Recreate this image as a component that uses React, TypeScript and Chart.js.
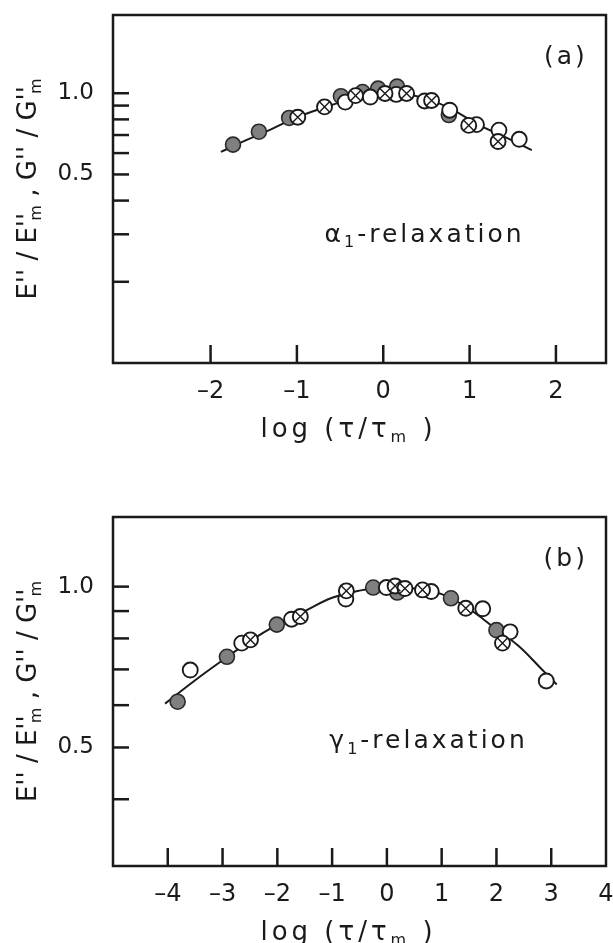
import React, { useEffect, useRef } from 'react';
import { Chart, registerables } from 'chart.js';

Chart.register(...registerables);

const FONT = '"DejaVu Sans", "Noto Sans", sans-serif';
const INK = '#1a1a1a';

// ---------- Panel (a): α1-relaxation ----------
const aFilledX = [-1.74, -1.44, -1.09, -0.49, -0.24, -0.06, 0.16, 0.76];
const aFilledY = [0.645, 0.72, 0.81, 0.975, 1.01, 1.04, 1.058, 0.83];
const aCrossX = [-0.99, -0.68, -0.32, 0.02, 0.27, 0.56, 0.99, 1.33];
const aCrossY = [0.815, 0.89, 0.98, 0.998, 0.998, 0.94, 0.76, 0.662];
const aOpenX = [-0.44, -0.15, 0.15, 0.48, 0.77, 1.08, 1.34, 1.575];
const aOpenY = [0.927, 0.968, 0.99, 0.936, 0.865, 0.765, 0.73, 0.675];
const aCurveX = [-1.88, -1.6, -1.3, -1.0, -0.7, -0.4, -0.1, 0.2, 0.5, 0.8, 1.1, 1.4, 1.72];
const aCurveY = [0.606, 0.667, 0.735, 0.815, 0.882, 0.945, 0.99, 0.995, 0.955, 0.87, 0.765, 0.69, 0.615];
const aXTicks = [-2, -1, 0, 1, 2];
const aXLabels = [-2, -1, 0, 1, 2];
const aYTicks = [0.2, 0.3, 0.4, 0.5, 0.6, 0.7, 0.8, 0.9, 1.0];
const aYLabels = [0.5, 1.0];

// ---------- Panel (b): γ1-relaxation ----------
const bFilledX = [-3.82, -2.92, -2.01, -0.25, 0.19, 1.17, 2.0];
const bFilledY = [0.609, 0.739, 0.849, 0.996, 0.975, 0.951, 0.829];
const bOpenX = [-3.59, -2.65, -1.74, -0.75, -0.01, 0.81, 1.75, 2.25, 2.91];
const bOpenY = [0.698, 0.784, 0.869, 0.948, 0.996, 0.979, 0.909, 0.823, 0.666];
const bCrossX = [-2.49, -1.58, -0.74, 0.15, 0.33, 0.65, 1.44, 2.11];
const bCrossY = [0.795, 0.879, 0.982, 1.003, 0.992, 0.986, 0.911, 0.784];
const bCurveX = [-4.05, -3.5, -3.0, -2.5, -2.0, -1.5, -1.0, -0.5, 0, 0.5, 1.0, 1.5, 2.0, 2.4, 2.8, 3.1];
const bCurveY = [0.604, 0.668, 0.728, 0.791, 0.849, 0.9, 0.953, 0.983, 0.998, 0.992, 0.968, 0.908, 0.832, 0.775, 0.705, 0.656];
const bXTicks = [-4, -3, -2, -1, 0, 1, 2, 3, 4];
const bXLabels = [-4, -3, -2, -1, 0, 1, 2, 3, 4];
const bYTicks = [0.4, 0.5, 0.6, 0.7, 0.8, 0.9, 1.0];
const bYLabels = [0.5, 1.0];

const pts = (xs: number[], ys: number[]) => xs.map((x, i) => ({ x, y: ys[i] }));

type Seg = { t: string; sub?: boolean; back?: string };

function richWidth(ctx: CanvasRenderingContext2D, segs: Seg[], size: number) {
  let w = 0;
  for (const s of segs) {
    if (s.back) {
      ctx.font = `${size}px ${FONT}`;
      w -= ctx.measureText(s.back).width * 0.55;
    }
    ctx.font = `${s.sub ? Math.round(size * 0.62) : size}px ${FONT}`;
    w += ctx.measureText(s.t).width;
  }
  return w;
}

function drawRich(ctx: CanvasRenderingContext2D, segs: Seg[], x0: number, y: number, size: number, baseline: CanvasTextBaseline = 'alphabetic') {
  let x = x0;
  ctx.textAlign = 'left';
  ctx.textBaseline = baseline;
  for (const s of segs) {
    if (s.back) {
      ctx.font = `${size}px ${FONT}`;
      x -= ctx.measureText(s.back).width * 0.55;
    }
    const fs = s.sub ? Math.round(size * 0.62) : size;
    ctx.font = `${fs}px ${FONT}`;
    const dy = s.sub ? (baseline === 'middle' ? size * 0.3 : size * 0.18) : 0;
    ctx.fillText(s.t, x, y + dy);
    x += ctx.measureText(s.t).width;
  }
}

const decorPlugin = {
  id: 'decor',
  afterDraw(chart: any, _args: any, o: any) {
    const ctx: CanvasRenderingContext2D = chart.ctx;
    const ca = chart.chartArea;
    const xs = chart.scales.x;
    const ys = chart.scales.y;
    ctx.save();
    ctx.strokeStyle = INK;
    ctx.fillStyle = INK;
    ctx.lineWidth = 2.5;
    ctx.strokeRect(ca.left, ca.top, ca.right - ca.left, ca.bottom - ca.top);
    for (const t of xs.ticks) {
      const px = xs.getPixelForValue(t.value);
      if (px < ca.left + 3 || px > ca.right - 3) continue;
      ctx.beginPath();
      ctx.moveTo(px, ca.bottom);
      ctx.lineTo(px, ca.bottom - o.xMark);
      ctx.stroke();
    }
    for (const t of ys.ticks) {
      const py = ys.getPixelForValue(t.value);
      ctx.beginPath();
      ctx.moveTo(ca.left, py);
      ctx.lineTo(ca.left + o.yMark, py);
      ctx.stroke();
    }
    (ctx as any).letterSpacing = '3px';
    // panel tag
    ctx.font = `25px ${FONT}`;
    ctx.textAlign = 'right';
    ctx.textBaseline = 'middle';
    ctx.fillText(o.tag, xs.getPixelForValue(o.tagX), ys.getPixelForValue(o.tagY));
    // relaxation name
    const nameSegs: Seg[] = [{ t: o.greek }, { t: '1', sub: true }, { t: '-relaxation' }];
    drawRich(ctx, nameSegs, xs.getPixelForValue(o.nameX), ys.getPixelForValue(o.nameY), 25, 'middle');
    // x title
    (ctx as any).letterSpacing = '4px';
    const xt: Seg[] = [{ t: 'log (τ/τ' }, { t: 'm', sub: true }, { t: ' )' }];
    const xw = richWidth(ctx, xt, 26);
    drawRich(ctx, xt, (ca.left + ca.right) / 2 - 11 - xw / 2, ca.bottom + o.xTitleDy, 26, 'middle');
    // y title (rotated)
    (ctx as any).letterSpacing = '0px';
    const yt: Seg[] = [
      { t: "E'' / E''" }, { t: 'm', sub: true, back: "''" },
      { t: " , G'' / G''" }, { t: 'm', sub: true, back: "''" },
    ];
    const yw = richWidth(ctx, yt, 26);
    ctx.translate(o.yTitleX, (ca.top + ca.bottom) / 2);
    ctx.rotate(-Math.PI / 2);
    drawRich(ctx, yt, -yw / 2, 0, 26, 'middle');
    ctx.restore();
  },
};

type PanelProps = {
  height: number;
  top: number;
  axisH: number;
  xMin: number; xMax: number;
  yMin: number; yMax: number;
  xTicks: number[]; xLabels: number[];
  yTicks: number[]; yLabels: number[];
  filled: { x: number; y: number }[];
  open: { x: number; y: number }[];
  cross: { x: number; y: number }[];
  curve: { x: number; y: number }[];
  decor: any;
};

function Panel(p: PanelProps) {
  const ref = useRef<HTMLCanvasElement>(null);
  useEffect(() => {
    if (!ref.current) return;
    const R = 7.5;
    const chart = new Chart(ref.current, {
      type: 'scatter',
      data: {
        datasets: [
          { data: p.cross, pointStyle: 'crossRot', pointRadius: R, borderColor: INK, borderWidth: 1.4, backgroundColor: 'transparent' } as any,
          { data: p.cross, pointStyle: 'circle', pointRadius: R, borderColor: INK, borderWidth: 1.9, backgroundColor: '#ffffff' },
          { data: p.open, pointStyle: 'circle', pointRadius: R, borderColor: INK, borderWidth: 1.9, backgroundColor: '#ffffff' },
          { data: p.filled, pointStyle: 'circle', pointRadius: R, borderColor: '#2a2a2a', borderWidth: 1.6, backgroundColor: '#808080' },
          { data: p.curve, showLine: true, pointRadius: 0, borderColor: INK, borderWidth: 2, tension: 0.4, fill: false } as any,
        ],
      },
      options: {
        animation: false,
        responsive: false,
        events: [],
        layout: { padding: { left: 0, right: 7, top: p.top, bottom: 0 }, autoPadding: false } as any,
        plugins: {
          legend: { display: false },
          tooltip: { enabled: false },
          decor: p.decor,
        } as any,
        scales: {
          x: {
            type: 'linear',
            min: p.xMin,
            max: p.xMax,
            afterBuildTicks: (s: any) => { s.ticks = p.xTicks.map((v) => ({ value: v })); },
            afterFit: (s: any) => { s.height = p.axisH; s.paddingLeft = 0; s.paddingRight = 0; },
            grid: { display: false, drawTicks: false },
            border: { display: false },
            ticks: {
              autoSkip: false,
              maxRotation: 0,
              padding: 14,
              color: INK,
              font: { family: FONT, size: 24 },
              callback: (v: any) => (p.xLabels.includes(Number(v)) ? String(v).replace('-', '–') : ''),
            },
          },
          y: {
            type: 'logarithmic',
            min: p.yMin,
            max: p.yMax,
            afterBuildTicks: (s: any) => { s.ticks = p.yTicks.map((v) => ({ value: v })); },
            afterFit: (s: any) => { s.width = 113; s.paddingTop = 0; s.paddingBottom = 0; },
            grid: { display: false, drawTicks: false },
            border: { display: false },
            ticks: {
              autoSkip: false,
              padding: 19,
              color: INK,
              font: { family: FONT, size: 23 },
              callback: (v: any) => (p.yLabels.includes(Number(v)) ? Number(v).toFixed(1) : ''),
            },
          },
        },
      },
      plugins: [decorPlugin],
    });
    return () => chart.destroy();
  }, []);
  return <canvas ref={ref} width={613} height={p.height} style={{ display: 'block', width: 613, height: p.height }} />;
}

export default function App() {
  useEffect(() => {
    document.body.style.margin = '0';
    document.body.style.background = '#ffffff';
  }, []);
  return (
    <div style={{ width: 613, height: 943, background: '#fff', overflow: 'hidden' }}>
      <Panel
        height={470}
        top={15}
        axisH={107}
        xMin={-3.13} xMax={2.58}
        yMin={0.1} yMax={1.95}
        xTicks={aXTicks} xLabels={aXLabels}
        yTicks={aYTicks} yLabels={aYLabels}
        filled={pts(aFilledX, aFilledY)}
        open={pts(aOpenX, aOpenY)}
        cross={pts(aCrossX, aCrossY)}
        curve={pts(aCurveX, aCurveY)}
        decor={{ xMark: 18, yMark: 16, tag: '(a)', tagX: 2.37, tagY: 1.36, greek: 'α', nameX: -0.68, nameY: 0.298, xTitleDy: 67, yTitleX: 29 }}
      />
      <Panel
        height={473}
        top={47}
        axisH={77}
        xMin={-5} xMax={4}
        yMin={0.31} yMax={1.35}
        xTicks={bXTicks} xLabels={bXLabels}
        yTicks={bYTicks} yLabels={bYLabels}
        filled={pts(bFilledX, bFilledY)}
        open={pts(bOpenX, bOpenY)}
        cross={pts(bCrossX, bCrossY)}
        curve={pts(bCurveX, bCurveY)}
        decor={{ xMark: 18, yMark: 16, tag: '(b)', tagX: 3.67, tagY: 1.122, greek: 'γ', nameX: -1.05, nameY: 0.512, xTitleDy: 67, yTitleX: 29 }}
      />
    </div>
  );
}
